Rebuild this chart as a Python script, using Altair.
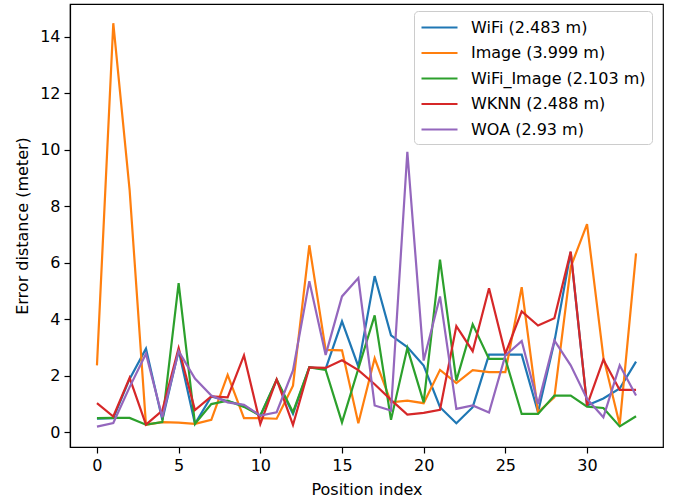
import altair as alt
import pandas as pd

positions = list(range(34))

series_names = ["WiFi (2.483 m)", "Image (3.999 m)", "WiFi_Image (2.103 m)",
                "WKNN (2.488 m)", "WOA (2.93 m)"]
series_colors = ["#1f77b4", "#ff7f0e", "#2ca02c", "#d62728", "#9467bd"]

wifi = [0.48, 0.5, 1.89, 2.96, 0.44, 2.9, 0.3, 1.27, 1.1, 0.95, 0.59, 1.85, 0.65,
        2.3, 2.25, 3.93, 2.33, 5.53, 3.43, 3.02, 2.36, 0.89, 0.32, 0.89, 2.75, 2.75,
        2.75, 0.71, 3.2, 6.38, 0.95, 1.2, 1.55, 2.5]
image = [2.37, 14.48, 8.57, 0.27, 0.36, 0.34, 0.3, 0.44, 2.03, 0.5, 0.5, 0.48, 1.65,
         6.62, 2.92, 2.9, 0.32, 2.62, 1.06, 1.12, 1.03, 2.21, 1.74, 2.2, 2.13, 2.13,
         5.14, 0.71, 1.24, 5.85, 7.37, 2.66, 0.27, 6.33]
wifi_image = [0.5, 0.51, 0.51, 0.27, 0.36, 5.28, 0.3, 1.0, 1.12, 0.9, 0.59, 1.87, 0.71,
              2.3, 2.21, 0.35, 2.25, 4.14, 0.44, 2.98, 1.06, 6.11, 1.83, 3.82, 2.6, 2.6,
              0.65, 0.65, 1.3, 1.3, 0.91, 0.86, 0.21, 0.57]
wknn = [1.03, 0.56, 1.93, 0.27, 0.77, 2.98, 0.79, 1.27, 1.24, 2.72, 0.3, 1.87, 0.26,
        2.3, 2.28, 2.55, 2.2, 1.7, 1.15, 0.63, 0.69, 0.8, 3.76, 2.87, 5.1, 2.78,
        4.28, 3.78, 4.04, 6.4, 0.95, 2.57, 1.5, 1.5]
woa = [0.2, 0.33, 1.6, 2.78, 0.53, 2.87, 1.9, 1.3, 1.06, 0.97, 0.59, 0.71, 2.19,
       5.35, 2.74, 4.81, 5.46, 0.95, 0.77, 9.93, 2.54, 4.81, 0.83, 0.95, 0.7, 2.72,
       3.23, 1.0, 3.25, 2.37, 1.18, 0.53, 2.37, 1.3]

all_values = [wifi, image, wifi_image, wknn, woa]

rows = []
for name, vals in zip(series_names, all_values):
    for p, v in zip(positions, vals):
        rows.append({"pos": p, "err": v, "series": name})
df = pd.DataFrame(rows)

x_enc = alt.X("pos:Q", title="Position index",
              scale=alt.Scale(domain=[-1.65, 34.65], nice=False, zero=False),
              axis=alt.Axis(values=[0, 5, 10, 15, 20, 25, 30], format="d"))
y_enc = alt.Y("err:Q", title="Error distance (meter)",
              scale=alt.Scale(domain=[-0.52, 15.16], nice=False, zero=False),
              axis=alt.Axis(values=[0, 2, 4, 6, 8, 10, 12, 14], format="d"))
color_enc = alt.Color(
    "series:N",
    scale=alt.Scale(domain=series_names, range=series_colors),
    legend=alt.Legend(
        title=None, orient="none", legendX=344, legendY=7,
        symbolType="M-1,0H3", symbolSize=324, symbolStrokeWidth=2.2,
        labelOffset=30, labelFontSize=16, labelFont="DejaVu Sans",
        labelColor="black", labelLimit=400, rowPadding=6.5, padding=6,
        fillColor="rgba(255,255,255,0.8)", strokeColor="#cccccc",
        cornerRadius=4,
    ),
)

layers = []
for name in series_names:
    layers.append(
        alt.Chart(df)
        .transform_filter(alt.datum.series == name)
        .mark_line(strokeWidth=2.2)
        .encode(x=x_enc, y=y_enc, color=color_enc)
    )

chart = (
    alt.layer(*layers)
    .properties(
        width=593, height=443,
        autosize=alt.AutoSizeParams(type="none"),
        padding={"left": 70, "top": 4, "right": 14, "bottom": 57},
    )
    .configure_view(stroke="black", strokeWidth=1.2)
    .configure_axis(
        grid=False, domainColor="black", domainWidth=1.2, tickColor="black",
        tickSize=6, tickWidth=1.2, labelColor="black", labelFontSize=16,
        labelFont="DejaVu Sans", titleFont="DejaVu Sans", titleFontSize=16,
        titleFontWeight="normal", titleColor="black", labelPadding=4,
    )
    .configure_axisX(titlePadding=8)
    .configure_axisY(titlePadding=9)
)

chart.save("out.html", embed_options={"renderer": "svg", "actions": False})
